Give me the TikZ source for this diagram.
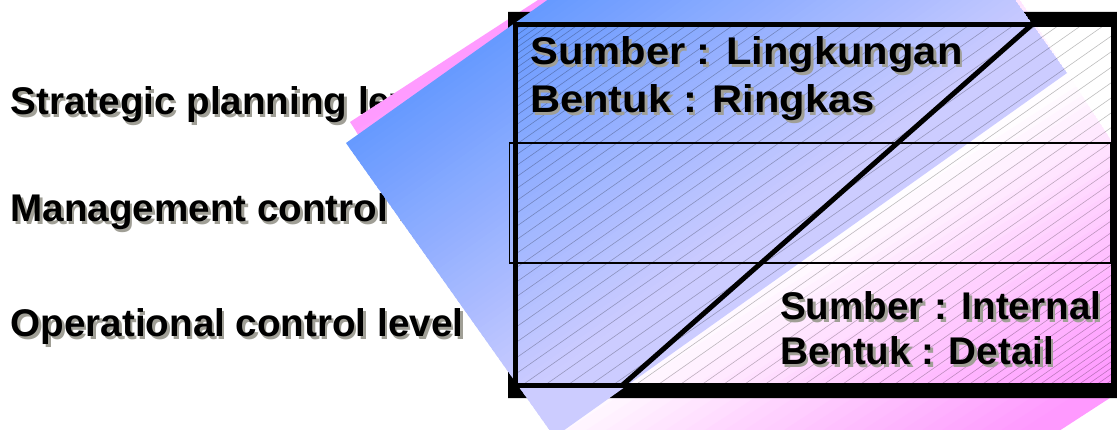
\documentclass[tikz,border=0pt]{standalone}
\usepackage{fontspec}
\setmainfont{Liberation Sans}
\usetikzlibrary{calc}
\definecolor{pinkA}{HTML}{FF99FF}
\definecolor{blueA}{HTML}{6699FF}
\definecolor{lavA}{HTML}{CCCCFF}
\definecolor{shadowgray}{HTML}{A09F96}
\newcommand\shtext[1]{\rlap{\hspace{2.5pt}\raisebox{-2.5pt}{\textcolor{shadowgray}{#1}}}#1}
\begin{document}
\begin{tikzpicture}[x=1pt,y=-1pt,
  lbl/.style={anchor=base west, inner sep=0pt, font=\bfseries\fontsize{38.6}{46}\selectfont},
  hatchline/.style={black, opacity=0.26, line width=0.6pt},
  boxline/.style={line width=5pt, line join=miter},
  thinline/.style={line width=1.3pt},
  ]
\useasboundingbox (0,0) rectangle (1117,430);
\fill[white] (0,0) rectangle (1117,430);
\clip (0,0) rectangle (1117,430);

% left labels (partly hidden by the shapes)
\node[lbl] (spl) at (10.5,115) {\shtext{Strategic planning level}};
\node[lbl] (mcl) at (10.5,221.7) {\shtext{Management control level}};
\node[lbl] (ocl) at (10.5,337) {\shtext{Operational control level}};

% pink rotated rectangle
\coordinate (pL) at (350,122);
\coordinate (pT) at (877,-220);
\coordinate (pR) at (1228.5,321);
\coordinate (pB) at (701.5,663);
\begin{scope}
\clip (pL) -- (pT) -- (pR) -- (pB) -- cycle;
\foreach \k in {0,...,59}{
  \pgfmathsetmacro\ta{\k/60}
  \pgfmathsetmacro\tb{(\k+1.6)/60}
  \pgfmathsetmacro\tm{(\k+0.5)/60}
  \pgfmathsetmacro\pkmix{ifthenelse(\tm<0.55,(0.55-\tm)/0.55*100,min(100,(\tm-0.55)/0.42*100))}
  \fill[pinkA!\pkmix!white] ($(pL)!\ta!(pB)$) -- ($(pT)!\ta!(pR)$) -- ($(pT)!\tb!(pR)$) -- ($(pL)!\tb!(pB)$) -- cycle;
}
\end{scope}

% black frame behind
\fill[black, even odd rule] (508,12) rectangle (1130,398) (516,25) rectangle (1112,386);

% blue rotated rectangle
\coordinate (bL) at (346,143);
\coordinate (bT) at (858.5,-221);
\coordinate (bR) at (1067,73);
\coordinate (bB) at (554.5,437);
\begin{scope}
\clip (bL) -- (bT) -- (bR) -- (bB) -- cycle;
\foreach \k in {0,...,59}{
  \pgfmathsetmacro\ta{\k/60}
  \pgfmathsetmacro\tb{(\k+1.6)/60}
  \pgfmathsetmacro\tm{(\k+0.5)/60}
  \pgfmathsetmacro\bmix{max(0,1-\tm/0.85)*100}
  \fill[blueA!\bmix!lavA] ($(bL)!\ta!(bB)$) -- ($(bT)!\ta!(bR)$) -- ($(bT)!\tb!(bR)$) -- ($(bL)!\tb!(bB)$) -- cycle;
}
\end{scope}

% hatching inside the box
\begin{scope}
\clip (518,27) rectangle (1111,383);
\foreach \i in {0,...,71}{
  \pgfmathsetmacro\hv{\i/71}
  \pgfmathsetmacro\hu{315+639*(\hv-0.444*sin(360*\hv)/(2*pi))}
  \draw[hatchline] ({\hu*0.5736+150*0.8192},{\hu*0.8192-150*0.5736}) -- ({\hu*0.5736+950*0.8192},{\hu*0.8192-950*0.5736});
}
\end{scope}

% box outline, middle row, diagonal
\coordinate (boxNW) at (515.5,24.5);
\coordinate (boxSE) at (1113.5,385.5);
\draw[boxline] (boxNW) rectangle (boxSE);
\coordinate (midNW) at (509.7,143);
\coordinate (midSE) at (1111,263);
\draw[thinline] (midNW) rectangle (midSE);
\coordinate (dTop) at (1032,24.5);
\coordinate (dBot) at (622,385.5);
\draw[line width=5pt] (dTop) -- (dBot);

% box texts
\node[lbl] (s1) at (530,65) {\scalebox{1.08}[1]{\shtext{Sumber : Lingkungan}}};
\node[lbl] (b1) at (530,112.7) {\scalebox{1.08}[1]{\shtext{Bentuk : Ringkas}}};
\node[lbl] (s2) at (780,320) {\shtext{Sumber : Internal}};
\node[lbl] (b2) at (780,365) {\shtext{Bentuk : Detail}};
\end{tikzpicture}
\end{document}
